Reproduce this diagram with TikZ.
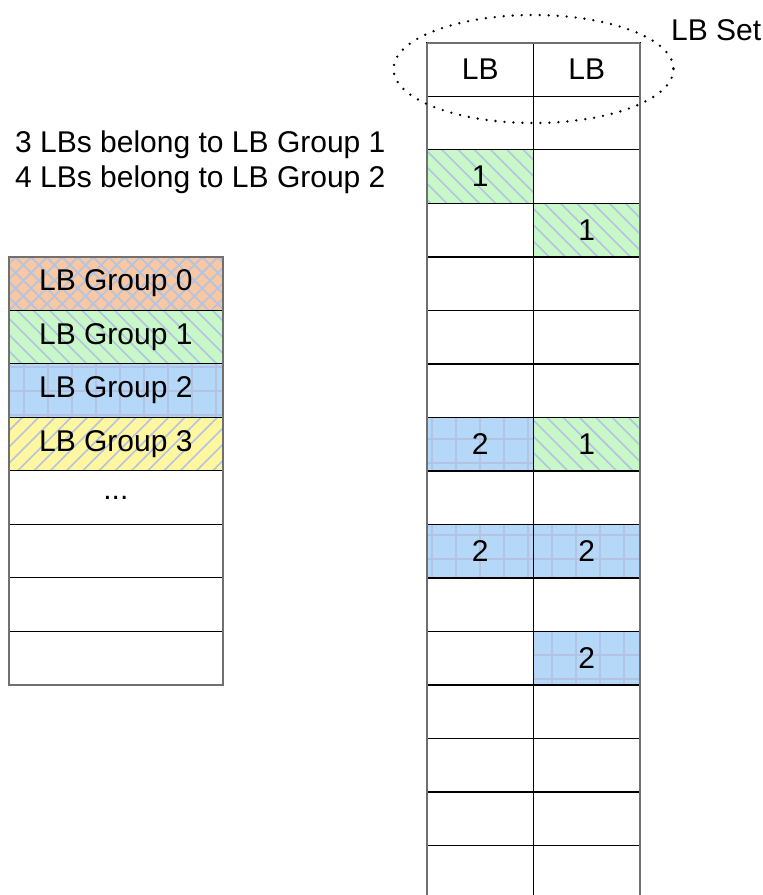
\documentclass[tikz,border=0pt]{standalone}
\usepackage{fontspec}
\setmainfont{Liberation Sans}
\usetikzlibrary{patterns.meta}
\definecolor{orangefill}{HTML}{F9C8A2}
\definecolor{greenfill}{HTML}{C8F8C8}
\definecolor{bluefill}{HTML}{B6D8F8}
\definecolor{yellowfill}{HTML}{FFF6A0}
\definecolor{patblue}{HTML}{B2C4E2}
\definecolor{outline}{HTML}{707070}
\newcommand{\fsz}{\fontsize{30}{36}\selectfont}
\tikzset{
  cellbox/.style={draw=black, line width=1.4pt, inner sep=0pt, outer sep=0pt, anchor=north west, font=\fsz},
  rcell/.style={cellbox, minimum width=106.5pt, minimum height=53.5pt},
  lcell/.style={cellbox, minimum width=213.7pt, minimum height=53.5pt},
  gzero/.style={preaction={fill=orangefill},
    preaction={pattern={Lines[angle=45,distance=11pt,line width=1.8pt]}, pattern color=patblue},
    preaction={pattern={Lines[angle=-45,distance=11pt,line width=1.8pt]}, pattern color=patblue}},
  gone/.style={preaction={fill=greenfill},
    preaction={pattern={Lines[angle=-45,distance=11.5pt,line width=1.6pt]}, pattern color=patblue}},
  gtwo/.style={preaction={fill=bluefill},
    preaction={pattern={Lines[angle=0,distance=24pt,line width=2.4pt]}, pattern color=patblue},
    preaction={pattern={Lines[angle=90,distance=24pt,line width=2.4pt]}, pattern color=patblue}},
  gthree/.style={preaction={fill=yellowfill},
    preaction={pattern={Lines[angle=45,distance=11.5pt,line width=1.6pt]}, pattern color=patblue}},
  txt/.style={font=\fsz, inner sep=0pt},
  setell/.style={draw=black, line width=2.6pt, dash pattern=on 0pt off 9pt, line cap=round},
}
\begin{document}
\begin{tikzpicture}[x=1pt,y=-1pt]
\useasboundingbox (0,0) rectangle (763,895);
% left table
\node[lcell, gzero] (l0) at (9,256.7) {LB Group 0};
\node[lcell, gone] (l1) at (9,310.2) {LB Group 1};
\node[lcell, gtwo] (l2) at (9,363.7) {LB Group 2};
\node[lcell, gthree] (l3) at (9,417.2) {LB Group 3};
\node[lcell] (l4) at (9,470.7) {...};
\node[lcell] (l5) at (9,524.2) {};
\node[lcell] (l6) at (9,577.7) {};
\node[lcell] (l7) at (9,631.2) {};
\draw[outline, line width=1.6pt] (l0.north west) rectangle (l7.south east);
% right table
\foreach \r in {0,...,15}{
  \node[rcell] (r\r a) at (427,{42.7+\r*53.53}) {};
  \node[rcell] (r\r b) at (533.5,{42.7+\r*53.53}) {};
}
\node[rcell] at (r0a.north west) {LB};
\node[rcell] at (r0b.north west) {LB};
\node[rcell, gone] at (r2a.north west) {1};
\node[rcell, gone] at (r3b.north west) {1};
\node[rcell, gtwo] at (r7a.north west) {2};
\node[rcell, gone] at (r7b.north west) {1};
\node[rcell, gtwo] at (r9a.north west) {2};
\node[rcell, gtwo] at (r9b.north west) {2};
\node[rcell, gtwo] at (r11b.north west) {2};
\draw[outline, line width=1.6pt] (r0a.north west) -- (r15a.south west);
\draw[outline, line width=1.6pt] (r0b.north east) -- (r15b.south east);
\draw[outline, line width=1.6pt] (r0a.north west) -- (r0b.north east);
% ellipse
\draw[setell] (533.5,69) ellipse [x radius=140, y radius=54];
\node[txt, anchor=base west] (setlbl) at (671,40) {LB Set};
% texts
\node[txt, anchor=base west] (t1) at (15,152.3) {3 LBs belong to LB Group 1};
\node[txt, anchor=base west] (t2) at (15,187.3) {4 LBs belong to LB Group 2};
\end{tikzpicture}
\end{document}
